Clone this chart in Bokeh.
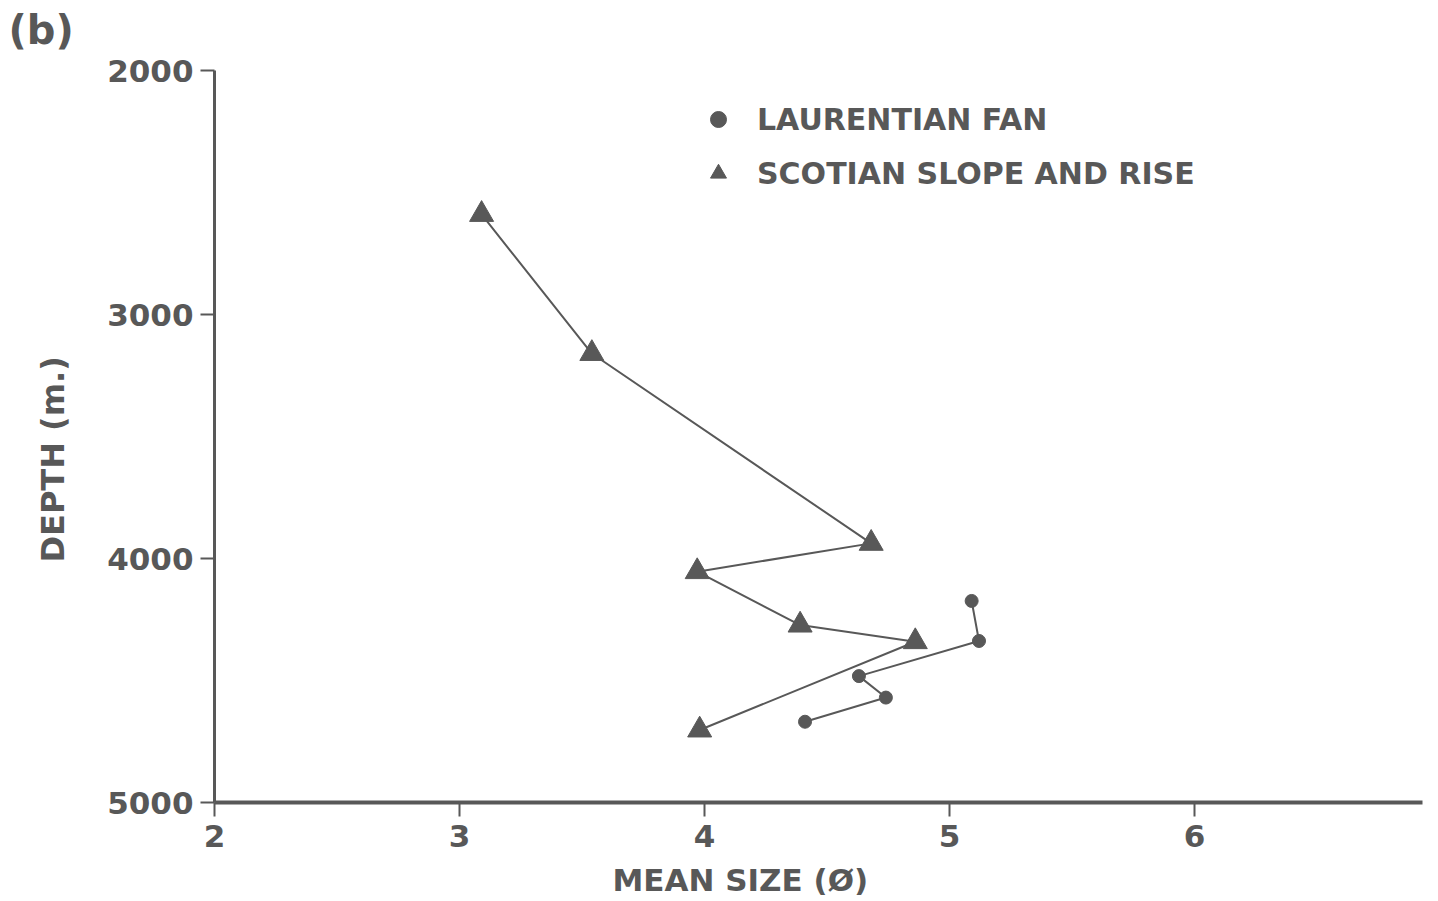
from bokeh.plotting import figure
from bokeh.models import Range1d, FixedTicker, Legend, LegendItem, Title
from bokeh.embed import file_html
from bokeh.resources import INLINE

# ---- data ----
scotian_size = [3.09, 3.54, 4.68, 3.97, 4.39, 4.86, 3.98]
scotian_depth = [2590, 3160, 3938, 4054, 4273, 4341, 4703]
laurentian_size = [5.09, 5.12, 4.63, 4.74, 4.41]
laurentian_depth = [4174, 4338, 4482, 4570, 4669]
x_ticks = [2, 3, 4, 5, 6]
y_ticks = [2000, 3000, 4000, 5000]
series_names = ["LAURENTIAN FAN", "SCOTIAN SLOPE AND RISE"]
panel_tag = "(b)"
x_title = "MEAN SIZE (Ø)"
y_title = "DEPTH (m.)"

INK = "#585858"
FONT = "DejaVu Sans"
HAS_PAD = "padding" in Title.properties()

W, H = 1430, 900
p = figure(width=W, height=H, output_backend="svg", toolbar_location=None,
           x_range=Range1d(2, 6.93), y_range=Range1d(5000, 2000),
           min_border_left=214, min_border_right=8, min_border_top=70,
           min_border_bottom=98)
p.background_fill_color = "white"
p.border_fill_color = "white"
p.outline_line_color = None
p.grid.visible = False

p.xaxis.ticker = FixedTicker(ticks=x_ticks)
p.yaxis.ticker = FixedTicker(ticks=y_ticks)
for ax in (p.xaxis[0], p.yaxis[0]):
    ax.axis_line_color = INK
    ax.major_tick_line_color = INK
    ax.major_tick_line_width = 2
    ax.major_tick_out = 14
    ax.major_tick_in = 0
    ax.minor_tick_line_color = None
    ax.major_label_text_color = INK
    ax.major_label_text_font = FONT
    ax.major_label_text_font_style = "bold"
    ax.major_label_text_font_size = "31px"
p.xaxis.axis_line_width = 4
p.yaxis.axis_line_width = 3
p.xaxis.major_label_standoff = 8
p.yaxis.major_label_standoff = 7

# series
p.line(scotian_size, scotian_depth, line_color=INK, line_width=2)
tri = p.scatter(scotian_size, scotian_depth, marker="triangle", size=24,
                fill_color=INK, line_color=INK)
p.line(laurentian_size, laurentian_depth, line_color=INK, line_width=2)
dot = p.scatter(laurentian_size, laurentian_depth, marker="circle", size=13,
                fill_color=INK, line_color=INK)

legend = Legend(items=[LegendItem(label=series_names[0], renderers=[dot]),
                       LegendItem(label=series_names[1], renderers=[tri])],
                location=(484, 609), border_line_color=None,
                background_fill_alpha=0, padding=0, margin=0, spacing=14,
                glyph_width=40, glyph_height=40, label_height=40,
                label_standoff=19, label_text_color=INK,
                label_text_font=FONT, label_text_font_style="bold",
                label_text_font_size="30px")
p.add_layout(legend, "center")

# panel tag above, axis titles below / left
tag = Title(text=panel_tag, align="left", offset=-206, text_font=FONT,
            text_font_style="bold", text_font_size="40px", text_color=INK,
            standoff=22)
x_lab = Title(text=x_title, align="left", offset=398, text_font=FONT,
              text_font_style="bold", text_font_size="31px",
              text_color=INK, standoff=11)
y_lab = Title(text=y_title, align="left", offset=240, text_font=FONT,
              text_font_style="bold", text_font_size="32px",
              vertical_align="top", text_color=INK, standoff=62)
if HAS_PAD:
    tag.update(vertical_align="top", standoff=0,
               padding=dict(left=0, right=0, top=6, bottom=16))
    x_lab.update(vertical_align="top", standoff=0,
                 padding=dict(left=0, right=0, top=12, bottom=0))
p.add_layout(tag, "above")
p.add_layout(x_lab, "below")
p.add_layout(y_lab, "left")

open("out.html", "w").write(file_html(p, INLINE))
